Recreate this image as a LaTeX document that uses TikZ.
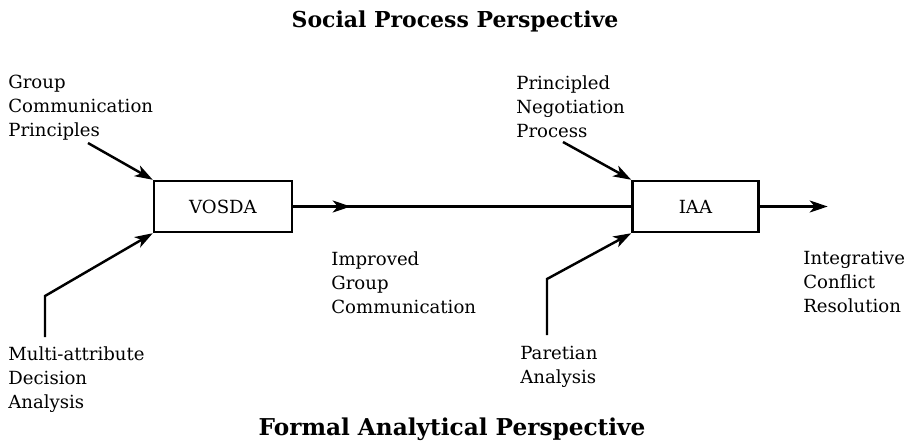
\documentclass[tikz,border=0pt]{standalone}
\usepackage{fontspec}
\setmainfont{DejaVu Serif}
\usetikzlibrary{arrows.meta, positioning, decorations.markings}

\begin{document}
\begin{tikzpicture}[every node/.style={font=\fontsize{10.3}{13.7}\selectfont, align=left, inner sep=0pt},
  box/.style={rectangle, draw, line width=1.4pt, minimum height=1.02cm, align=center},
  hdr/.style={font=\fontsize{12.5}{14}\selectfont\bfseries, anchor=base},
  lbl/.style={anchor=north west},
  arr/.style={-{Stealth[length=0.36cm, width=0.24cm, inset=0.1cm]}, line width=1.4pt},
  midArr/.style={line width=1.4pt, postaction={decorate}, decoration={markings, mark=at position 0.17 with {\arrow{Stealth[length=0.36cm, width=0.24cm, inset=0.1cm]}}}}]
\useasboundingbox (0,0) rectangle (18.18,-8.94);
\node (socialTitle) [hdr] at (9.1,-0.54) {Social Process Perspective};
\node (formalTitle) [hdr, font=\fontsize{13.2}{14}\selectfont\bfseries] at (9.04,-8.7) {Formal Analytical Perspective};

\node (vosdaBox) [box, minimum width=2.76cm] at (4.46,-4.13) {VOSDA};
\node (iaaBox) [box, minimum width=2.52cm, right=6.76cm of vosdaBox] {IAA};

\node (groupComm) [lbl] at (0.16,-1.5) {Group\\Communication\\Principles};
\node (principledNeg) [lbl] at (10.32,-1.5) {Principled\\Negotiation\\Process};
\node (improvedComm) [lbl] at (6.62,-5.02) {Improved\\Group\\Communication};
\node (integrativeRes) [lbl] at (16.06,-5.02) {Integrative\\Conflict\\Resolution};
\node (multiAttr) [lbl] at (0.16,-6.92) {Multi-attribute\\Decision\\Analysis};
\node (paretian) [lbl] at (10.4,-6.92) {Paretian\\Analysis};

\coordinate (gcpFoot) at (1.76,-2.86);
\coordinate (pnpFoot) at (11.26,-2.84);
\coordinate (madaFoot) at (0.9,-6.74);
\coordinate (paFoot) at (10.94,-6.7);
\coordinate [right=1.36cm of iaaBox] (icrTip);

\draw[arr] (gcpFoot) -- (vosdaBox.north west);
\draw[arr] (madaFoot) -- ++(0,0.82) -- (vosdaBox.south west);
\draw[arr] (pnpFoot) -- (iaaBox.north west);
\draw[arr] (paFoot) -- ++(0,1.12) -- (iaaBox.south west);
\draw[midArr] (vosdaBox) -- (iaaBox);
\draw[arr] (iaaBox) -- (icrTip);
\end{tikzpicture}
\end{document}
